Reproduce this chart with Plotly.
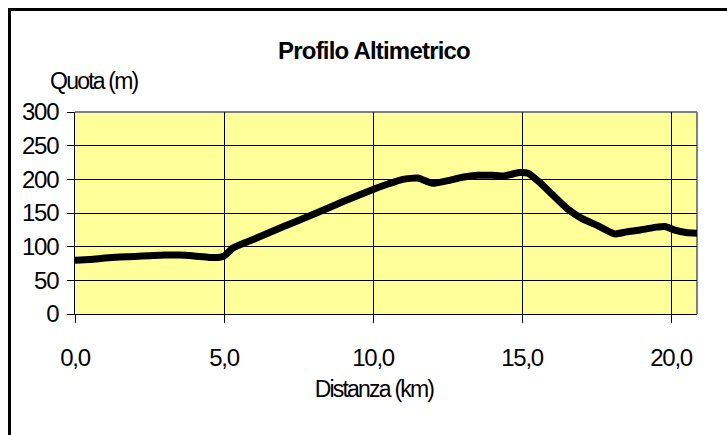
import plotly.graph_objects as go

# Data
distanza_km = [0, 0.5, 1, 1.5, 2, 2.5, 3, 3.5, 4, 4.5, 4.8, 5.0, 5.3, 5.6, 6, 7, 8, 9, 10,
               10.5, 11, 11.5, 11.8, 12, 12.5, 13, 13.5, 14, 14.4, 14.9, 15.2, 15.6, 16,
               16.5, 17, 17.5, 18.1, 18.5, 19, 19.5, 19.8, 20.1, 20.5, 20.9]
quota_m = [80, 81, 83, 84.5, 85.5, 86.5, 87.5, 87.5, 86, 84, 84, 86, 98, 104, 111, 130, 148, 167, 185,
           193, 200, 202, 197, 194, 198, 203, 206, 206, 205, 210, 209, 195, 178,
           157, 142, 132, 119, 122, 125, 129, 130, 125, 121, 120]

x_ticks = [0, 5, 10, 15, 20]
y_ticks = [0, 50, 100, 150, 200, 250, 300]

W, H = 727, 435
L, R, T, B = 75, 697, 112, 314

def px(x):
    return (x - L) / (R - L)

def py(y):
    return (B - y) / (B - T)

FONT = "Liberation Sans, Arial, sans-serif"

fig = go.Figure()
fig.add_trace(go.Scatter(
    x=distanza_km, y=quota_m, mode="lines",
    line=dict(color="black", width=7, shape="spline", smoothing=0.5),
    hoverinfo="skip", showlegend=False,
))

fig.update_layout(
    width=W, height=H,
    margin=dict(l=L, r=W - R, t=T, b=H - B, pad=0),
    paper_bgcolor="white",
    plot_bgcolor="#FFFF99",
    separators=",.",
    showlegend=False,
    title=dict(text="<b>Profilo Altimetrico</b>", xref="container", x=374 / W,
               yref="container", y=1 - 51 / H, xanchor="center", yanchor="middle",
               font=dict(family=FONT, size=24, color="black")),
    xaxis=dict(range=[0, 20.87], tickvals=x_ticks, tickformat=".1f",
               showgrid=True, gridcolor="black", gridwidth=1,
               showline=True, linecolor="black", linewidth=1,
               ticks="outside", ticklen=8, tickcolor="black", tickwidth=1,
               ticklabelstandoff=14, zeroline=False,
               tickfont=dict(family=FONT, size=24, color="black")),
    yaxis=dict(range=[0, 300], tickvals=y_ticks,
               showgrid=True, gridcolor="black", gridwidth=1,
               showline=True, linecolor="black", linewidth=1,
               ticks="outside", ticklen=7, tickcolor="black", tickwidth=1,
               ticklabelstandoff=4, zeroline=False,
               tickfont=dict(family=FONT, size=24, color="black")),
    annotations=[
        dict(text="Quota (m)", xref="paper", yref="paper", x=px(94), y=py(81),
             xanchor="center", yanchor="middle", showarrow=False,
             font=dict(family=FONT, size=23, color="black")),
        dict(text="Distanza (km)", xref="paper", yref="paper", x=px(374), y=py(389),
             xanchor="center", yanchor="middle", showarrow=False,
             font=dict(family=FONT, size=23, color="black")),
    ],
    shapes=[
        # grey plot-area border (top and right)
        dict(type="line", xref="paper", yref="paper", x0=0, x1=1, y0=1, y1=1,
             line=dict(color="#808080", width=2), layer="between"),
        dict(type="line", xref="paper", yref="paper", x0=1, x1=1, y0=0, y1=1,
             line=dict(color="#808080", width=2), layer="between"),
        # outer chart border
        dict(type="rect", xref="paper", yref="paper", x0=px(9.5), x1=px(760),
             y0=py(470), y1=py(9.5), line=dict(color="black", width=3),
             fillcolor="rgba(0,0,0,0)", layer="above"),
    ],
)

post = """
var st = document.createElement('style');
st.textContent = 'html,body{margin:0;padding:0;overflow:hidden;}' +
  '.xtick text,.ytick text{letter-spacing:-1.3px !important;}' +
  '.annotation-text{letter-spacing:-1.8px !important;}' +
  '.gtitle{letter-spacing:-0.8px !important;}';
document.head.appendChild(st);
"""

fig.write_html("out.html", post_script=post, config={"displayModeBar": False})
